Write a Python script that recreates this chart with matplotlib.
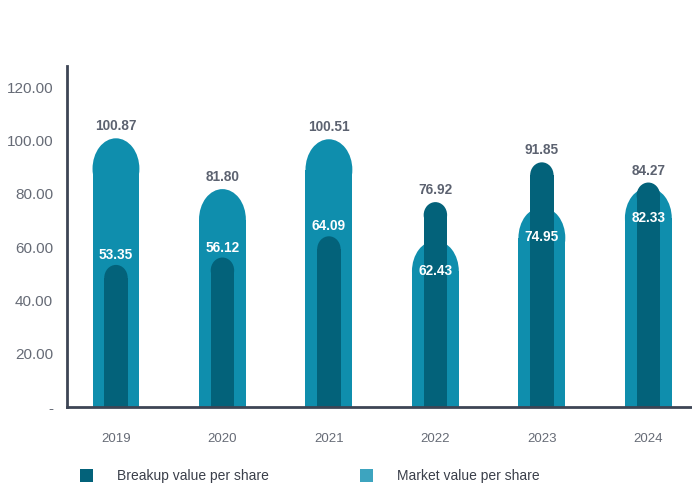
import matplotlib.pyplot as plt
from matplotlib.patches import Ellipse, Rectangle

years = ['2019', '2020', '2021', '2022', '2023', '2024']
breakup = [53.35, 56.12, 64.09, 76.92, 91.85, 84.27]
market = [100.87, 81.80, 100.51, 62.43, 74.95, 82.33]
yticks = [0, 20, 40, 60, 80, 100, 120]

c_market = '#0f8ead'
c_breakup = '#03627a'
c_market_leg = '#3da4bf'
c_text = '#5c6270'
c_spine = '#3d4555'

plt.rcParams['font.family'] = ['Liberation Sans', 'DejaVu Sans']

fig = plt.figure(figsize=(6.92, 4.84), dpi=100)
ax = fig.add_axes([0.0968, 0.159, 0.9032, 0.7046])
ax.set_xlim(-0.46, 5.41)
ax.set_ylim(0, 128)

# px per data unit, used to size the caps
px_x = 0.9032 * 692 / (5.41 + 0.46)
px_y = 0.7046 * 484 / 128


def rounded_bar(x, h, w, color, stretch):
    r = stretch * (w * px_x / 2) / px_y
    ax.bar(x, h - r, width=w, color=color, linewidth=0, zorder=2)
    ax.add_patch(Ellipse((x, h - r), w, 2 * r, facecolor=color,
                         linewidth=0, zorder=2))


wide, narrow = 0.44, 0.22
for i in range(len(years)):
    rounded_bar(i, market[i], wide, c_market, 1.3)
for i in range(len(years)):
    rounded_bar(i, breakup[i], narrow, c_breakup, 1.1)

for i in range(len(years)):
    m, b = market[i], breakup[i]
    if m >= b:
        ax.annotate(f'{m:.2f}', (i, m), xytext=(0, 12), textcoords='offset pixels',
                    ha='center', va='center', fontsize=9.8, fontweight='bold', color=c_text)
        ax.annotate(f'{b:.2f}', (i, b), xytext=(0, 10), textcoords='offset pixels',
                    ha='center', va='center', fontsize=9.8, fontweight='bold', color='white')
    else:
        ax.annotate(f'{b:.2f}', (i, b), xytext=(0, 12), textcoords='offset pixels',
                    ha='center', va='center', fontsize=9.8, fontweight='bold', color=c_text)
        ax.annotate(f'{m:.2f}', (i, m), xytext=(0, -30), textcoords='offset pixels',
                    ha='center', va='center', fontsize=9.8, fontweight='bold', color='white', zorder=5)

ax.set_xticks(range(len(years)))
ax.set_xticklabels(years)
ax.set_yticks(yticks)
ax.set_yticklabels(['-'] + [f'{v:.2f}' for v in yticks[1:]])
ax.tick_params(axis='y', length=0, pad=10, labelsize=11, labelcolor='#666b76')
ax.tick_params(axis='x', length=0, pad=19, labelsize=9.5, labelcolor='#666b76')

for s in ['top', 'right']:
    ax.spines[s].set_visible(False)
for s in ['left', 'bottom']:
    ax.spines[s].set_color(c_spine)
    ax.spines[s].set_linewidth(2)
    ax.spines[s].set_zorder(4)

# legend
leg = [('Breakup value per share', c_breakup, 80), ('Market value per share', c_market_leg, 360)]
for label, col, x0 in leg:
    fig.add_artist(Rectangle((x0 / 692, 1 - 482 / 484), 13 / 692, 13 / 484,
                             transform=fig.transFigure, facecolor=col, linewidth=0))
    fig.text((x0 + 37) / 692, 1 - 476 / 484, label, ha='left', va='center',
             fontsize=10, color='#3a3f4a')

fig.savefig('out.png', dpi=100)
